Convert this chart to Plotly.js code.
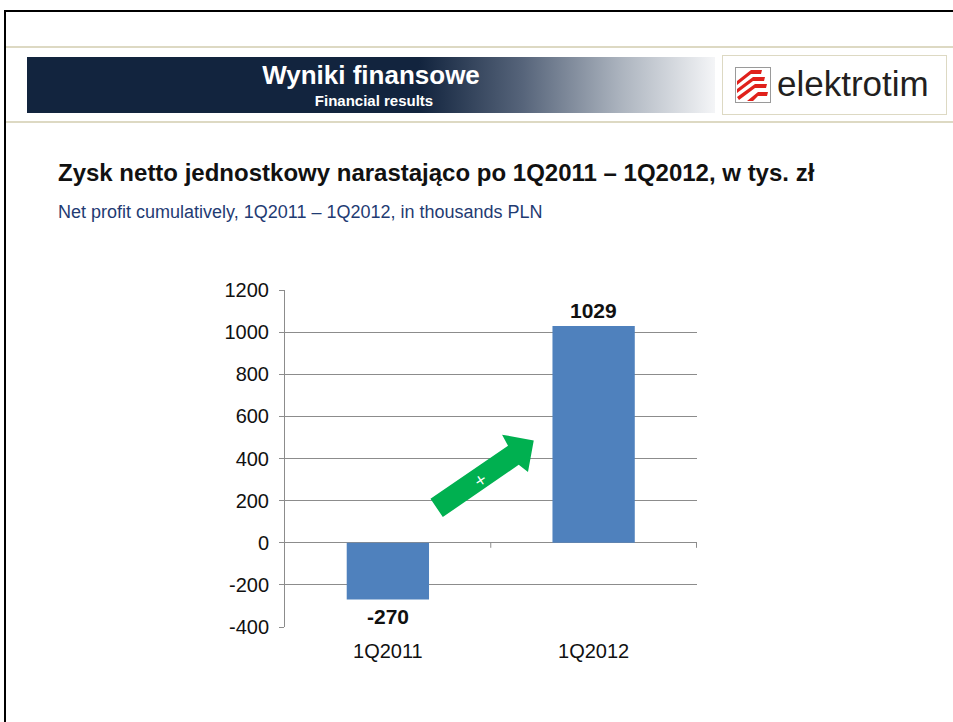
<!DOCTYPE html>
<html>
<head>
<meta charset="utf-8">
<script src="https://cdn.plot.ly/plotly-3.0.1.min.js"></script>
<style>
  html, body { margin:0; padding:0; background:#fff; }
  body { width:953px; height:722px; position:relative; overflow:hidden; font-family:"Liberation Sans", Arial, sans-serif; }
  .abs { position:absolute; white-space:nowrap; }
  #frameTop { left:4px; top:10px; width:949px; height:2px; background:#000; }
  #frameLeft { left:4px; top:10px; width:2px; height:712px; background:#000; }
  .tan { left:6px; width:947px; height:2px; background:#ddd9c3; }
  #band { left:27px; top:57px; width:688px; height:56px;
          background:linear-gradient(to right, #12243e 0%, #12243e 57%, #56647a 72%, #aab2bd 86%, #f4f5f7 100%); }
  #bandT1 { left:27px; top:60px; width:688px; text-align:center; color:#fff; font-weight:bold; font-size:26px; }
  #bandT2 { left:27px; top:92px; width:688px; text-align:center; color:#fff; font-weight:bold; font-size:15px; padding-left:6px; box-sizing:border-box; }
  #logo { left:722px; top:55px; width:225px; height:60px; border:1px solid #ddd9c3; box-sizing:border-box; background:#fff; }
  #logoText { left:777px; top:64px; font-size:35px; color:#231f20; }
  #title { left:58px; top:159px; font-weight:bold; font-size:24px; color:#111; }
  #subtitle { left:58px; top:202px; font-size:18px; color:#1f3b73; }
  #chart { left:200px; top:270px; width:520px; height:420px; }
</style>
</head>
<body>
<div class="abs" id="frameTop"></div>
<div class="abs" id="frameLeft"></div>
<div class="abs tan" style="top:46px"></div>
<div class="abs tan" style="top:121px"></div>
<div class="abs" id="band"></div>
<div class="abs" id="bandT1">Wyniki finansowe</div>
<div class="abs" id="bandT2">Financial results</div>
<div class="abs" id="logo"></div>
<svg class="abs" style="left:735px;top:67px" width="36" height="36" viewBox="0 0 36 36">
  <rect x="0.5" y="0.5" width="35" height="35" fill="#fff" stroke="#9a9a9a"/>
  <g fill="#e0201b">
    <polygon points="2,14 16,3 27,3 26,7 16,7 2,18"/>
    <polygon points="2,22 18,10 30,10 29,14 18,14 2,26"/>
    <polygon points="2,30 20,17 32,17 31,21 20,21 4,33"/>
    <polygon points="12,34 23,25 33,25 32,29 23,29 18,34"/>
  </g>
</svg>
<div class="abs" id="logoText">elektrotim</div>
<div class="abs" id="title">Zysk netto jednostkowy narastająco po 1Q2011 – 1Q2012, w tys. zł</div>
<div class="abs" id="subtitle">Net profit cumulatively, 1Q2011 – 1Q2012, in thousands PLN</div>
<div class="abs" id="chart"></div>
<script>
const categories = ["1Q2011", "1Q2012"];
const values = [-270, 1029];
const labels = ["-270", "1029"];
const yTicks = [-400, -200, 0, 200, 400, 600, 800, 1000, 1200];

const font = "Liberation Sans, Arial, sans-serif";

const trace = {
  type: "bar",
  x: categories,
  y: values,
  marker: { color: "#4f81bd" },
  width: 0.4,
  hoverinfo: "skip"
};

const annotations = categories.map((c, i) => ({
  x: c, y: values[i], text: "<b>" + labels[i] + "</b>",
  showarrow: false, xref: "x", yref: "y",
  yanchor: values[i] >= 0 ? "bottom" : "top",
  yshift: values[i] >= 0 ? 2 : -3,
  font: { family: font, size: 21, color: "#111" }
}));
annotations.push({
  x: 0.45, y: 299, xref: "x", yref: "y", text: "+", showarrow: false,
  textangle: -34, font: { family: "DejaVu Sans, sans-serif", size: 15, color: "#fff" }
});

const layout = {
  width: 520, height: 420,
  margin: { l: 85, r: 23, t: 20, b: 63 },
  paper_bgcolor: "rgba(0,0,0,0)",
  plot_bgcolor: "rgba(0,0,0,0)",
  showlegend: false,
  xaxis: {
    type: "category",
    tickfont: { family: font, size: 20, color: "#111" },
    showgrid: false, showline: false, ticks: "",
    ticklabelstandoff: 10,
    fixedrange: true
  },
  yaxis: {
    range: [-400, 1200],
    tickvals: yTicks,
    ticktext: yTicks.map(String),
    tickfont: { family: font, size: 20, color: "#111" },
    showgrid: true, gridcolor: "#8c8c8c", gridwidth: 1,
    zeroline: true, zerolinecolor: "#8c8c8c", zerolinewidth: 1,
    showline: true, linecolor: "#8c8c8c", linewidth: 1,
    ticks: "outside", ticklen: 5, tickcolor: "#8c8c8c",
    ticklabelstandoff: 6,
    fixedrange: true
  },
  shapes: [
    { type: "line", xref: "x", yref: "y", x0: 0.5, x1: 0.5, y0: 0, y1: -24, line: { color: "#8c8c8c", width: 1 } },
    { type: "line", xref: "x", yref: "y", x0: 1.5, x1: 1.5, y0: 0, y1: -24, line: { color: "#8c8c8c", width: 1 } },
    { type: "path", xref: "x", yref: "y", layer: "above",
      path: "M 0.207 209 L 0.267 122 L 0.636 370 L 0.681 336 L 0.709 486 L 0.555 513 L 0.584 461 Z",
      fillcolor: "#00b050", line: { width: 0 } }
  ],
  annotations: annotations
};

Plotly.newPlot("chart", [trace], layout, { displayModeBar: false, staticPlot: true });
</script>
</body>
</html>
